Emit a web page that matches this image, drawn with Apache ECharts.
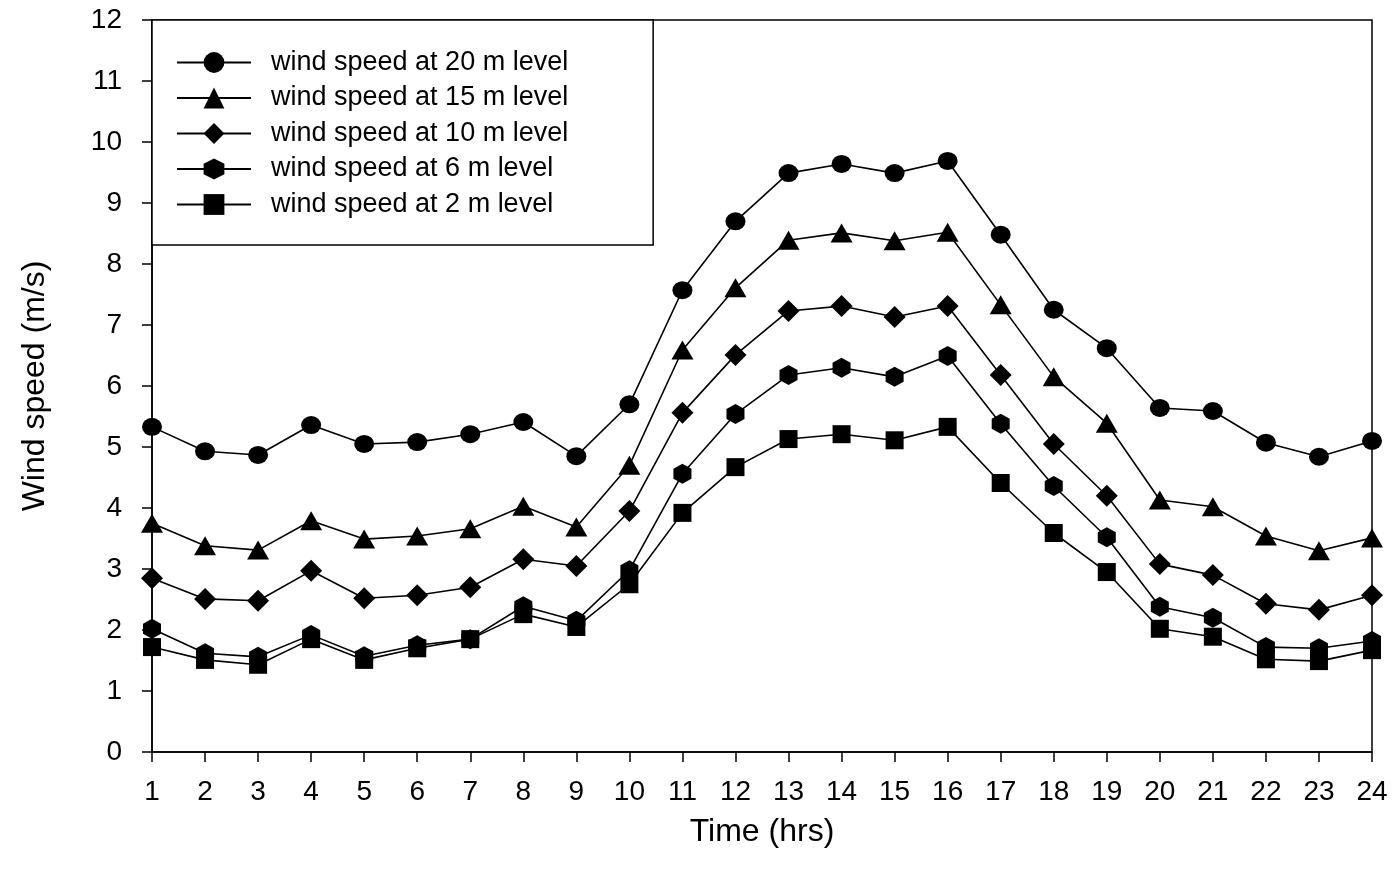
<!DOCTYPE html>
<html>
<head>
<meta charset="utf-8">
<script src="https://cdn.jsdelivr.net/npm/echarts@6/dist/echarts.min.js"></script>
<style>
html,body{margin:0;padding:0;background:#fff;}
#chart{width:1395px;height:879px;}
</style>
</head>
<body>
<div id="chart"></div>
<script>
const hours = [1,2,3,4,5,6,7,8,9,10,11,12,13,14,15,16,17,18,19,20,21,22,23,24];
const seriesNames = ['wind speed at 20 m level','wind speed at 15 m level','wind speed at 10 m level','wind speed at 6 m level','wind speed at 2 m level'];
const ws20 = [5.33,4.93,4.87,5.36,5.05,5.08,5.21,5.41,4.85,5.70,7.57,8.70,9.49,9.64,9.49,9.69,8.48,7.25,6.62,5.64,5.59,5.07,4.84,5.10];
const ws15 = [3.75,3.38,3.31,3.79,3.49,3.54,3.66,4.03,3.69,4.70,6.59,7.61,8.39,8.51,8.38,8.52,7.33,6.15,5.39,4.13,4.02,3.54,3.30,3.51];
const ws10 = [2.85,2.51,2.48,2.97,2.52,2.57,2.70,3.16,3.05,3.95,5.56,6.51,7.23,7.31,7.13,7.31,6.18,5.05,4.20,3.08,2.90,2.43,2.33,2.57];
const ws6  = [2.02,1.62,1.56,1.92,1.57,1.75,1.85,2.39,2.15,2.98,4.56,5.54,6.18,6.30,6.15,6.49,5.38,4.36,3.52,2.38,2.20,1.72,1.70,1.82];
const ws2  = [1.72,1.51,1.43,1.85,1.51,1.70,1.85,2.26,2.05,2.75,3.92,4.67,5.13,5.21,5.11,5.33,4.41,3.59,2.95,2.02,1.89,1.52,1.49,1.67];
const yTicks = [0,1,2,3,4,5,6,7,8,9,10,11,12];

const FONT = 'Liberation Sans';
const hexagon = 'path://M0,-10L8.66,-5L8.66,5L0,10L-8.66,5L-8.66,-5Z';
const allData = [ws20, ws15, ws10, ws6, ws2];
const symbols = ['circle','triangle','diamond',hexagon,'rect'];
const sizes = [[20,18],[22,19],[22,22],[18,20],[18,18]];

const chart = echarts.init(document.getElementById('chart'));
const series = allData.map((d, i) => ({
  name: seriesNames[i],
  type: 'line',
  data: d.map((v, j) => [hours[j], v]),
  symbol: symbols[i],
  symbolSize: sizes[i],
  showAllSymbol: true,
  lineStyle: {color: '#000', width: 1.6},
  itemStyle: {color: '#000', borderWidth: 0},
  emphasis: {disabled: true},
  animation: false,
  z: 3
}));

chart.setOption({
  backgroundColor: '#fff',
  animation: false,
  grid: {left: 152, right: 23, top: 20, bottom: 127, show: true, borderColor: '#000', borderWidth: 1.5, containLabel: false},
  legend: {
    orient: 'vertical',
    left: 152,
    top: 20,
    data: seriesNames,
    itemWidth: 74,
    itemHeight: 26,
    itemGap: 8.5,
    padding: [29, 85, 27, 24],
    borderColor: '#000',
    borderWidth: 1.5,
    backgroundColor: '#fff',
    selectedMode: false,
    textStyle: {fontFamily: FONT, fontSize: 27, color: '#000', padding: [0,0,0,15], lineHeight: 26}
  },
  xAxis: {
    type: 'value',
    min: 1, max: 24, interval: 1,
    name: 'Time (hrs)',
    nameLocation: 'middle',
    nameGap: 64,
    nameTextStyle: {fontFamily: FONT, fontSize: 32, color: '#000'},
    axisLine: {show: true, onZero: false, lineStyle: {color: '#000', width: 1.5}},
    axisTick: {show: true, length: 10, inside: false, lineStyle: {color: '#000', width: 1.5}},
    axisLabel: {fontFamily: FONT, fontSize: 28, color: '#000', margin: 26},
    splitLine: {show: false}
  },
  yAxis: {
    type: 'value',
    min: 0, max: 12, interval: 1,
    name: 'Wind speed (m/s)',
    nameLocation: 'middle',
    nameGap: 101,
    nameRotate: 90,
    nameTextStyle: {fontFamily: FONT, fontSize: 32, color: '#000'},
    axisLine: {show: true, lineStyle: {color: '#000', width: 1.5}},
    axisTick: {show: true, length: 10, inside: false, lineStyle: {color: '#000', width: 1.5}},
    axisLabel: {fontFamily: FONT, fontSize: 28, color: '#000', margin: 30,
      formatter: v => yTicks.includes(v) ? String(v) : ''},
    splitLine: {show: false}
  },
  series: series
});
</script>
</body>
</html>
